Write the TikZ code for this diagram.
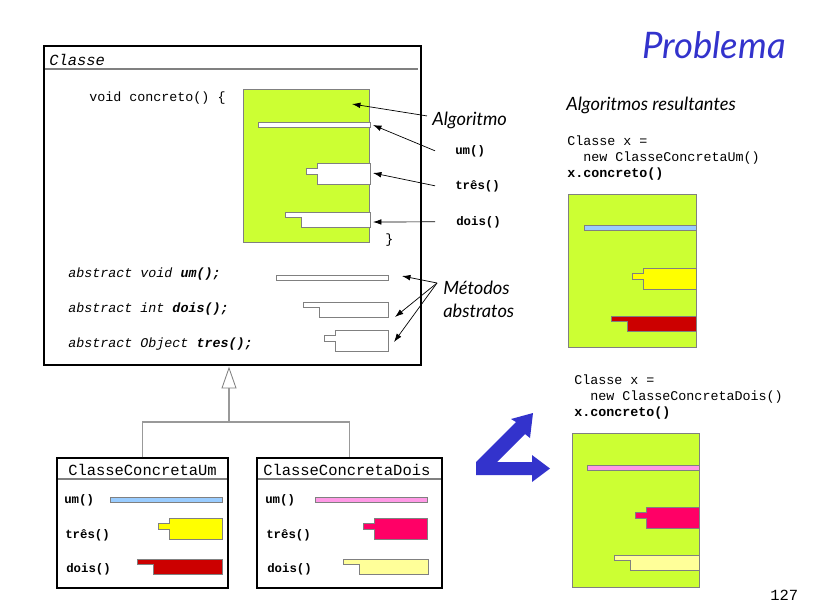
\documentclass[tikz,border=0pt]{standalone}
\usepackage{fontspec}
\setmainfont{Lato}
\setmonofont{Liberation Mono}
\usetikzlibrary{arrows.meta,calc,fit}
\definecolor{verde}{HTML}{CCFF33}
\definecolor{azulclaro}{HTML}{99CCFF}
\definecolor{amarelo}{HTML}{FFFF00}
\definecolor{vermelho}{HTML}{CC0000}
\definecolor{rosa}{HTML}{FF99E6}
\definecolor{magenta}{HTML}{FF0066}
\definecolor{amareloclaro}{HTML}{FFFF99}
\definecolor{azul}{HTML}{3333CC}
\definecolor{cinza}{HTML}{808080}

\begin{document}
\begin{tikzpicture}[x=0.025cm,y=-0.025cm,
  caixa/.style={draw=black,line width=0.8pt,inner sep=0pt},
  bloco/.style={draw=cinza,fill=verde,line width=0.5pt},
  forma/.style={draw=cinza,line width=0.5pt},
  heranca/.style={draw=cinza!80,line width=1.2pt},
  seta/.style={-{Latex[length=6pt,width=4pt]},line width=0.5pt},
  codigo/.style={font=\fontsize{9.5}{11}\selectfont\ttfamily,anchor=base west,inner sep=0pt},
  metodo/.style={font=\fontsize{8.8}{10}\selectfont\ttfamily\bfseries,anchor=base west,inner sep=0pt},
  titulo/.style={font=\fontsize{11}{13}\selectfont\ttfamily,anchor=base west,inner sep=0pt},
  rotulo/.style={font=\fontsize{13}{15}\selectfont\itshape,anchor=base west,inner sep=0pt}]
  \useasboundingbox (0,0) rectangle (819,612);
  \newcommand{\barra}[2]{\draw[#1] (#2) rectangle ++(-112,5);}
  \newcommand{\encaixe}[2]{\draw[#1] (#2) -- ++(-53,0) -- ++(0,5) -- ++(-11,0) -- ++(0,6) -- ++(11,0) -- ++(0,10) -- ++(53,0) -- cycle;}
  \newcommand{\degrau}[2]{\draw[#1] (#2) -- ++(-85,0) -- ++(0,5) -- ++(16,0) -- ++(0,10) -- ++(69,0) -- cycle;}

  % titulo
  \node[font=\fontsize{26}{30}\selectfont\itshape,text=azul,anchor=base west,inner sep=0pt] (prob) at (642,58) {Problema};

  % classe abstrata
  \node[caixa,fit={(44,46) (421,365)}] (classe) {};
  \node[titulo,font=\fontsize{11}{13}\selectfont\ttfamily\itshape] (tcl) at (49,65) {Classe};
  \draw[cinza,line width=1.8pt] (45,69) -- (418,69);
  \node[codigo] (conc) at (89,101) {void concreto() \{};
  \draw[bloco] (243,89) rectangle (369,242);
  \barra{forma,fill=white}{370,122}
  \encaixe{forma,fill=white}{370,163}
  \degrau{forma,fill=white}{370,212}
  \node[codigo] (fecha) at (385,243) {\}};
  \foreach \y/\n/\t in {277/aum/{abstract void \textbf{um();}}, 312/adois/{abstract int \textbf{dois();}},
                        347/atres/{abstract Object \textbf{tres();}}}
    \node[codigo,font=\fontsize{9.5}{11}\selectfont\ttfamily\itshape] (\n) at (68,\y) {\t};
  \barra{forma,fill=white}{388,275}
  \degrau{forma,fill=white}{388,302}
  \encaixe{forma,fill=white}{388,330}

  % rotulos e setas
  \node[rotulo] (alg) at (432,125) {Algoritmo};
  \node[metodo] (lum) at (455,154) {um()};
  \node[metodo] (ltres) at (455,189) {três()};
  \node[metodo] (ldois) at (456,225) {dois()};
  \node[rotulo] (met) at (443,294) {Métodos};
  \node[rotulo] (abst) at (443,317) {abstratos};
  \coordinate (tAlg) at (352,104);  \coordinate (tUm) at (373,125);
  \coordinate (tTres) at (373,173); \coordinate (tDois) at (373,222);
  \coordinate (m0) at (437,283);
  \coordinate (tUmA) at (402,276); \coordinate (tDoisA) at (395,317); \coordinate (tTresA) at (394,342);
  \draw[seta] ($(alg.west)+(-5,-4)$) -- (tAlg);
  \draw[seta] ($(lum.west)+(-20,0)$) -- (tUm);
  \draw[seta] ($(ltres.west)+(-20,0)$) -- (tTres);
  \draw[seta] ($(ldois.west)+(-21,0)$) -- (tDois);
  \foreach \t in {tUmA,tDoisA,tTresA} \draw[seta] (m0) -- (\t);

  % subclasses
  \node[caixa,fit={(57,458) (228,588)}] (cum) {};
  \node[caixa,fit={(257,458) (442,588)}] (cdois) {};
  \node[titulo] (tcum) at (68,475) {ClasseConcretaUm};
  \node[titulo] (tcdois) at (263,475) {ClasseConcretaDois};
  \draw[cinza,line width=1.8pt] (58,479) -- (227,479);
  \draw[cinza,line width=1.8pt] (258,479) -- (441,479);
  \foreach \x/\c in {64/u, 265/d} {
    \node[metodo] (um\c) at (\x,503) {um()};
    \node[metodo] (tres\c) at (\x+1,538) {três()};
    \node[metodo] (dois\c) at (\x+2,572) {dois()};}
  \barra{forma,fill=azulclaro}{222,497}
  \encaixe{forma,fill=amarelo}{222,518}
  \degrau{forma,fill=vermelho}{222,559}
  \barra{forma,fill=rosa}{427,497}
  \encaixe{forma,fill=magenta}{427,518}
  \degrau{forma,fill=amareloclaro}{428,559}

  % heranca
  \coordinate (ponta) at (229,368);
  \coordinate (base) at (229,388);
  \coordinate (juncao) at (229,422);
  \draw[heranca] (cum.north) |- (juncao) -| (cdois.north);
  \draw[heranca] (juncao) -- (base);
  \draw[cinza,fill=white,line width=0.6pt] (ponta) -- ($(base)+(7,0)$) -- ($(base)+(-7,0)$) -- cycle;

  % algoritmos resultantes
  \node[rotulo] (res) at (566,110) {Algoritmos resultantes};
  \node[codigo] (c1a) at (567,145) {Classe x =};
  \node[codigo] (c1b) at (583,161) {new ClasseConcretaUm()};
  \node[codigo,font=\fontsize{9.5}{11}\selectfont\ttfamily\bfseries] (c1c) at (567,177) {x.concreto()};
  \draw[bloco] (568,194) rectangle (696,347);
  \barra{forma,fill=azulclaro}{696,225}
  \encaixe{forma,fill=amarelo}{696,268}
  \degrau{forma,fill=vermelho}{696,316}

  \node[codigo] (c2a) at (574,384) {Classe x =};
  \node[codigo] (c2b) at (590,400) {new ClasseConcretaDois()};
  \node[codigo,font=\fontsize{9.5}{11}\selectfont\ttfamily\bfseries] (c2c) at (574,416) {x.concreto()};
  \draw[bloco] (572,433) rectangle (699,587);
  \barra{forma,fill=rosa}{699,465}
  \encaixe{forma,fill=magenta}{699,507}
  \degrau{forma,fill=amareloclaro}{699,555}

  % seta azul
  \fill[azul] (476,475) -- (532,475) -- (532,482) -- (550,468.5) -- (532,455) -- (532,462) -- (497,462)
    -- (525,434) -- (530,438) -- (533,413) -- (511,419) -- (516,422) -- (476,462) -- cycle;

  \node[codigo,font=\fontsize{11}{13}\selectfont\ttfamily] (pag) at (770,600) {127};
\end{tikzpicture}
\end{document}
